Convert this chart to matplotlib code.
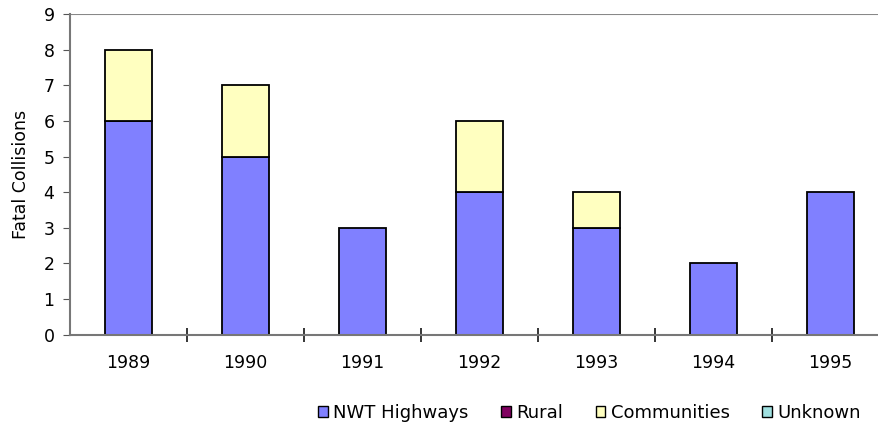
import matplotlib.pyplot as plt
import numpy as np

years = ['1989', '1990', '1991', '1992', '1993', '1994', '1995']
nwt_highways = [6, 5, 3, 4, 3, 2, 4]
rural = [0, 0, 0, 0, 0, 0, 0]
communities = [2, 2, 0, 2, 1, 0, 0]
unknown = [0, 0, 0, 0, 0, 0, 0]

plt.rcParams['font.family'] = ['DejaVu Sans']
fs = 12.5

fig = plt.figure(figsize=(8.79, 4.28), dpi=100)
ax = fig.add_axes([0.0794, 0.218, 0.9206, 0.749])

x = np.arange(len(years))
w = 0.40
series = [
    ('NWT Highways', nwt_highways, '#8080ff'),
    ('Rural', rural, '#800060'),
    ('Communities', communities, '#ffffc0'),
    ('Unknown', unknown, '#a0e0e0'),
]
bottom = np.zeros(len(years))
for name, vals, col in series:
    vals = np.array(vals, dtype=float)
    # zero-height segments would still draw an outline, so drop them
    h = np.where(vals > 0, vals, np.nan)
    ax.bar(x, h, w, bottom=bottom, color=col, edgecolor='black', linewidth=1.3)
    bottom += vals

ax.set_yticks(range(10))
ax.set_xticks(x)
ax.set_xticklabels(years, fontsize=fs)
ax.tick_params(axis='x', length=0, pad=14)
ax.set_xticks(np.arange(0.5, 6, 1), minor=True)
ax.tick_params(axis='x', which='minor', direction='inout', length=10, width=1.1, color='black')
ax.tick_params(axis='y', direction='out', length=5, color='#555555', labelsize=fs, pad=6)
ax.set_xlim(-0.5, 6.416)
ax.set_ylim(0, 9)

ax.axhline(9, color='#888888', linewidth=1.5)
for s in ['top', 'right']:
    ax.spines[s].set_visible(False)
for s in ['left', 'bottom']:
    ax.spines[s].set_color('#777777')
    ax.spines[s].set_linewidth(1.5)

ax.set_ylabel('Fatal Collisions', fontsize=fs, labelpad=10)

handles = [plt.Rectangle((0, 0), 1, 1, facecolor=c, edgecolor='black', linewidth=1) for _, _, c in series]
fig.legend(handles, [n for n, _, _ in series], loc='center right', bbox_to_anchor=(0.979, 0.035),
           ncol=4, frameon=False, fontsize=13, handlelength=0.55, handleheight=0.55,
           handletextpad=0.28, columnspacing=1.8, borderpad=0, borderaxespad=0)

fig.savefig('out.png', dpi=100)
